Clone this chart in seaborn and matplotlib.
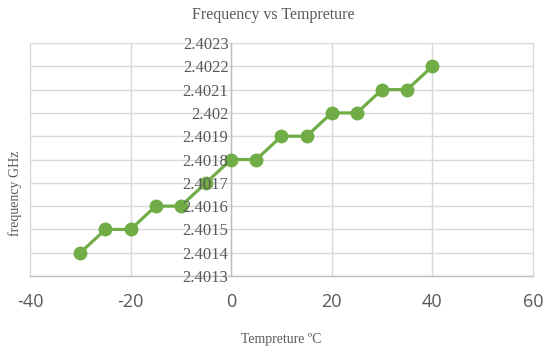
import matplotlib
matplotlib.use("Agg")
import matplotlib.pyplot as plt
import seaborn as sns
import pandas as pd
from matplotlib.ticker import FuncFormatter, MultipleLocator

temperature = [-30, -25, -20, -15, -10, -5, 0, 5, 10, 15, 20, 25, 30, 35, 40]
frequency = [2.4014, 2.4015, 2.4015, 2.4016, 2.4016, 2.4017, 2.4018, 2.4018,
             2.4019, 2.4019, 2.4020, 2.4020, 2.4021, 2.4021, 2.4022]
x_ticks = [-40, -20, 0, 20, 40, 60]

df = pd.DataFrame({"t": temperature, "f": frequency})

sns.set_style("white")
plt.rcParams["axes.unicode_minus"] = False
fig = plt.figure(figsize=(5.46, 3.54), dpi=100)
ax = fig.add_axes([0.055, 0.2203, 0.921, 0.6582])

sns.lineplot(data=df, x="t", y="f", ax=ax, color="#70ad47", linewidth=2.3,
             marker="o", markersize=10, markeredgewidth=0, zorder=3)

ax.set_xlim(-40, 60)
ax.set_ylim(2.4013, 2.4023)
ax.set_xticks(x_ticks)
ax.yaxis.set_major_locator(MultipleLocator(0.0001))

ax.grid(True, color="#d9d9d9", linewidth=1.0)
for gl in ax.get_xgridlines() + ax.get_ygridlines():
    gl.set_clip_on(False)
ax.set_axisbelow(True)
for s in ["top", "right"]:
    ax.spines[s].set_visible(False)
ax.spines["bottom"].set_color("#bfbfbf")
ax.spines["bottom"].set_linewidth(1.0)
ax.spines["left"].set_position(("data", 0))
ax.spines["left"].set_color("#bfbfbf")
ax.spines["left"].set_linewidth(1.0)
ax.spines["left"].set_zorder(1)

ax.tick_params(axis="x", length=0, pad=12, labelsize=13, labelcolor="#595959")
ax.tick_params(axis="y", length=0, labelleft=False)
for lab in ax.get_xticklabels():
    lab.set_fontfamily("Open Sans")

# overlay for y tick labels so they sit above the line, as in the reference
ax2 = ax.twinx()
ax2.set_ylim(2.4013, 2.4023)
ax2.yaxis.set_major_locator(MultipleLocator(0.0001))
ax2.yaxis.set_major_formatter(FuncFormatter(lambda v, p: f"{v:.4f}".rstrip("0")))
ax2.yaxis.set_ticks_position("left")
ax2.spines["left"].set_position(("data", 0))
for s in ["top", "right", "bottom", "left"]:
    ax2.spines[s].set_visible(False)
ax2.patch.set_visible(False)
ax2.tick_params(axis="y", length=0, pad=2, labelsize=12, labelcolor="#595959",
                labelleft=True, labelright=False)
for lab in ax2.get_yticklabels():
    lab.set_fontfamily("Liberation Serif")

ax.set_xlabel("Tempreture ºC", fontfamily="Liberation Serif", fontsize=10,
              color="#595959", labelpad=16)
ax.set_ylabel("")
fig.text(0.027, 0.455, "frequency GHz", rotation=90, ha="center", va="center",
         fontfamily="Liberation Serif", fontsize=10, color="#595959")
fig.text(0.5, 0.958, "Frequency vs Tempreture", ha="center", va="center",
         fontfamily="Liberation Serif", fontsize=11.5, color="#595959")

fig.savefig("out.png", dpi=100)
